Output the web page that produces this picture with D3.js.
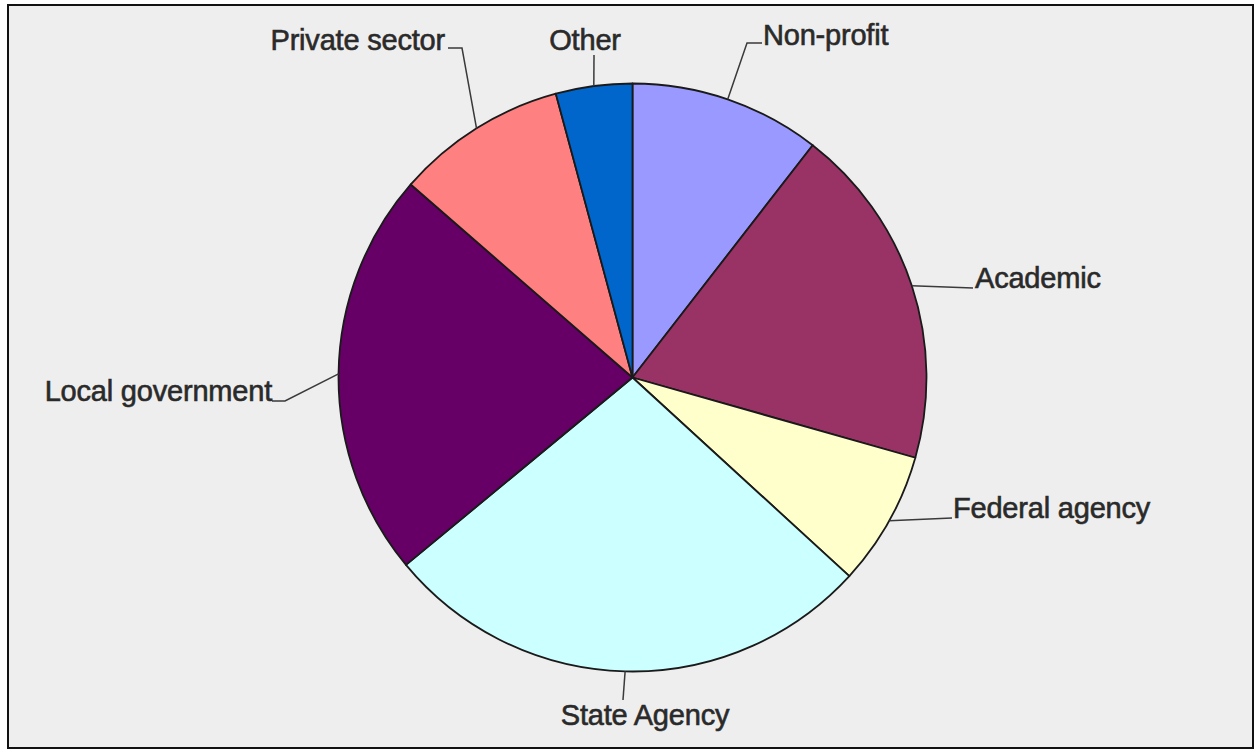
<!DOCTYPE html>
<html>
<head>
<meta charset="utf-8">
<script src="https://cdn.jsdelivr.net/npm/d3@7"></script>
<style>
  html, body { margin: 0; padding: 0; background: #ffffff; }
  svg { display: block; }
  text { font-family: "Liberation Sans", Arial, sans-serif; }
</style>
</head>
<body>
<svg id="chart" width="1255" height="751"></svg>
<script>
// Share of respondents by organisation type (percent), clockwise from 12 o'clock
const categories = ["Non-profit", "Academic", "Federal agency", "State Agency",
                    "Local government", "Private sector", "Other"];
const shares = [10.5, 18.9, 7.4, 27.2, 22.4, 9.4, 4.2];
const colors = ["#9999ff", "#993366", "#ffffcc", "#ccffff", "#660066", "#ff8080", "#0066cc"];

// Label placement: text anchor point, alignment and optional elbow of the leader line
const labelLayout = [
  { x: 763, y: 45,  anchor: "start",  elbow: [747, 43],  end: [762, 43] },
  { x: 975, y: 288, anchor: "start",  elbow: null,       end: [973, 288] },
  { x: 953, y: 518, anchor: "start",  elbow: null,       end: [952, 518] },
  { x: 645, y: 725, anchor: "middle", elbow: null,       end: [623, 700] },
  { x: 272, y: 401, anchor: "end",    elbow: [285, 401], end: [272, 401] },
  { x: 445, y: 50,  anchor: "end",    elbow: [462, 48],  end: [448, 48] },
  { x: 585, y: 50,  anchor: "middle", elbow: null,       end: [594, 55] }
];

const cx = 632.5, cy = 377.5, R = 294;

const svg = d3.select("#chart");

// panel background and frame
svg.append("rect")
  .attr("x", 8).attr("y", 5)
  .attr("width", 1245).attr("height", 743)
  .attr("fill", "#eeeeee")
  .attr("stroke", "#111")
  .attr("stroke-width", 2);

const data = categories.map((c, i) => ({ name: c, value: shares[i], color: colors[i], layout: labelLayout[i] }));

const pie = d3.pie().sort(null).value(d => d.value).startAngle(0).endAngle(2 * Math.PI);
const arcs = pie(data);

const arc = d3.arc().innerRadius(0).outerRadius(R);

const g = svg.append("g").attr("transform", `translate(${cx},${cy})`);

g.selectAll("path.slice")
  .data(arcs)
  .enter().append("path")
  .attr("class", "slice")
  .attr("d", arc)
  .attr("fill", d => d.data.color)
  .attr("stroke", "#1a1a1a")
  .attr("stroke-width", 1.8)
  .attr("stroke-linejoin", "round");

// leader lines from each slice's outer edge to its label
const leaders = svg.append("g")
  .attr("fill", "none")
  .attr("stroke", "#3a3a3a")
  .attr("stroke-width", 1.5);

arcs.forEach(a => {
  const mid = (a.startAngle + a.endAngle) / 2;
  const px = cx + R * Math.sin(mid);
  const py = cy - R * Math.cos(mid);
  const L = a.data.layout;
  const pts = [[px, py]];
  if (L.elbow) pts.push(L.elbow);
  pts.push(L.end);
  leaders.append("path").attr("d", d3.line()(pts));
});

svg.append("g")
  .selectAll("text")
  .data(arcs)
  .enter().append("text")
  .attr("x", d => d.data.layout.x)
  .attr("y", d => d.data.layout.y)
  .attr("text-anchor", d => d.data.layout.anchor)
  .attr("font-size", 29)
  .attr("letter-spacing", -0.2)
  .attr("fill", "#2a2a2a")
  .attr("stroke", "#2a2a2a")
  .attr("stroke-width", 0.6)
  .text(d => d.data.name);
</script>
</body>
</html>
